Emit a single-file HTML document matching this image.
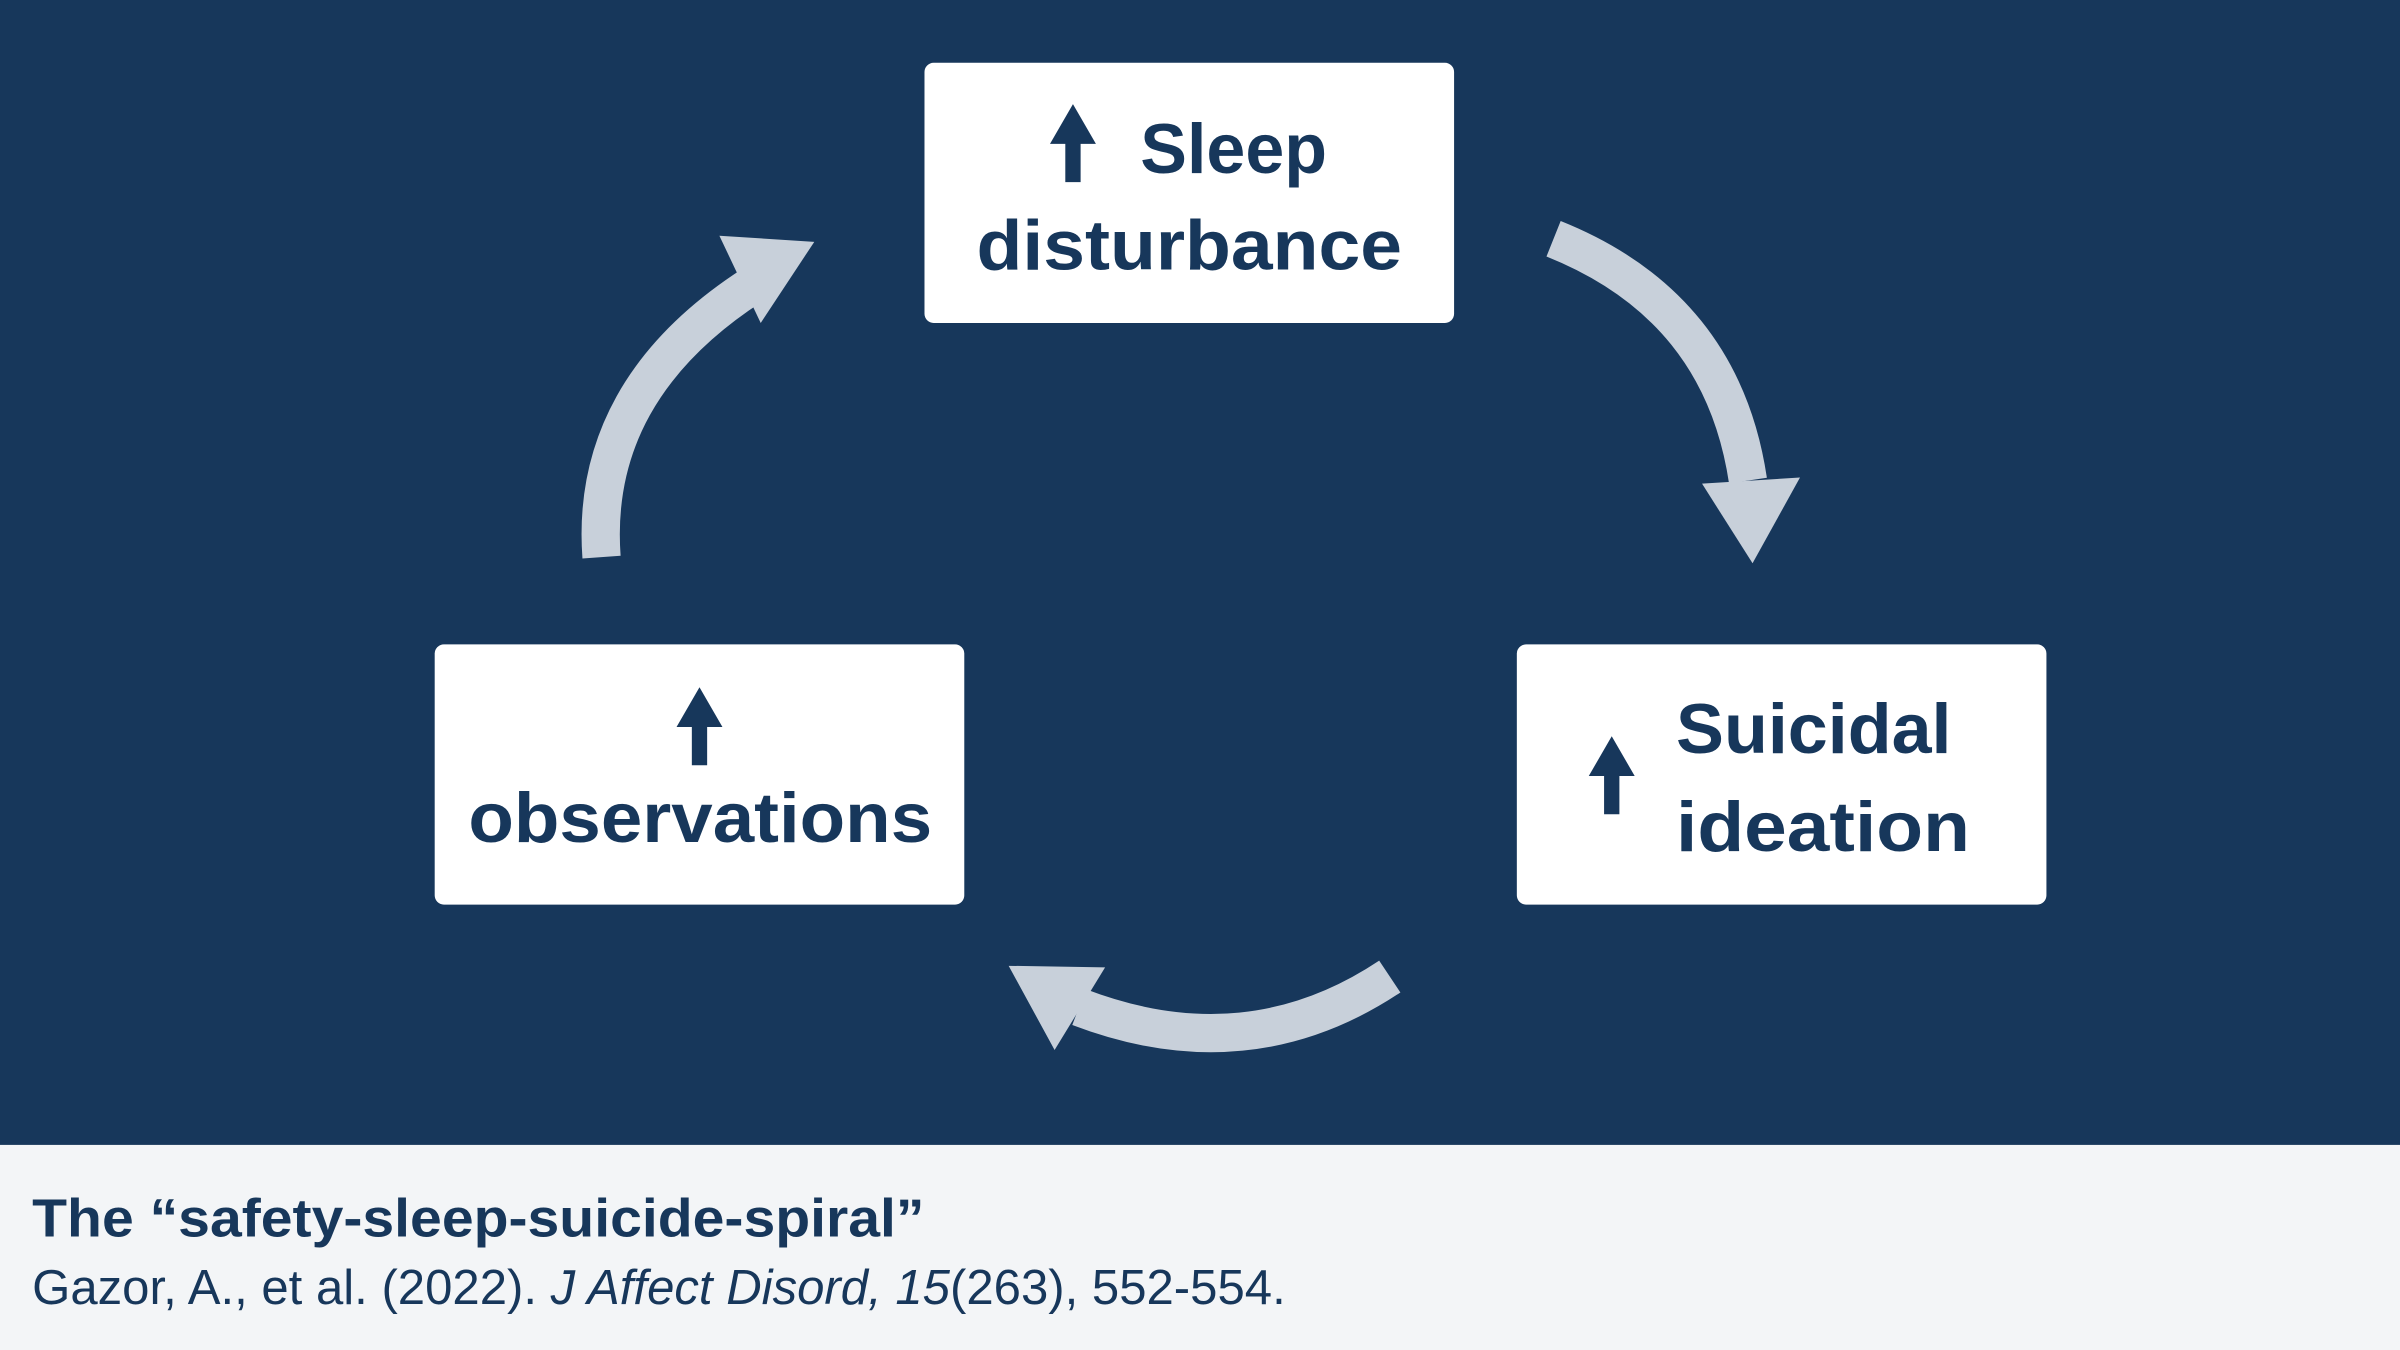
<!DOCTYPE html>
<html><head><meta charset="utf-8"><style>
html,body{margin:0;padding:0;width:2400px;height:1350px;overflow:hidden;background:#17375b}
svg{display:block}
text{font-family:"Liberation Sans",sans-serif;fill:#17375b}
</style></head><body>
<svg width="2400" height="1350" viewBox="0 0 1568 882" xmlns="http://www.w3.org/2000/svg">
<rect x="0" y="0" width="1568" height="748" fill="#17375b"/>
<rect x="0" y="748" width="1568" height="134" fill="#f3f5f7"/>
<g fill="#fff">
<rect x="604" y="41" width="346" height="170" rx="6"/>
<rect x="284" y="421" width="346" height="170" rx="6"/>
<rect x="991" y="421" width="346" height="170" rx="6"/>
</g>
<g fill="none" stroke="#c8d0da" stroke-width="25">
<path d="M1015,156 Q1125,200 1142,314"/>
<path d="M908,638 Q815,700 705,658"/>
<path d="M393,364 Q385,255 492,186"/>
</g>
<g fill="#c8d0da">
<polygon points="1112,316 1176,312 1145,368"/>
<polygon points="659,631 722,632 689,686"/>
<polygon points="470,154 532,158 497,211"/>
</g>
<g fill="#17375b">
<polygon points="701,68 686,94 696,94 696,119 706,119 706,94 716,94"/>
<polygon points="457,449 442,475 452,475 452,500 462,500 462,475 472,475"/>
<polygon points="1053,481 1038,507 1048,507 1048,532 1058,532 1058,507 1068,507"/>
</g>
<g font-weight="bold" font-size="46">
<text x="745" y="113" textLength="122" lengthAdjust="spacingAndGlyphs">Sleep</text>
<text x="638" y="176" textLength="278" lengthAdjust="spacingAndGlyphs">disturbance</text>
<text x="306" y="550" textLength="303" lengthAdjust="spacingAndGlyphs">observations</text>
<text x="1095" y="492" textLength="180" lengthAdjust="spacingAndGlyphs">Suicidal</text>
<text x="1095" y="556" textLength="192" lengthAdjust="spacingAndGlyphs">ideation</text>
</g>
<text x="21" y="808" font-size="35" font-weight="bold" textLength="583" lengthAdjust="spacingAndGlyphs">The “safety-sleep-suicide-spiral”</text>
<text x="21" y="852" font-size="32" textLength="819" lengthAdjust="spacingAndGlyphs">Gazor, A., et al. (2022). <tspan font-style="italic">J Affect Disord, 15</tspan>(263), 552-554.</text>
</svg>
</body></html>
